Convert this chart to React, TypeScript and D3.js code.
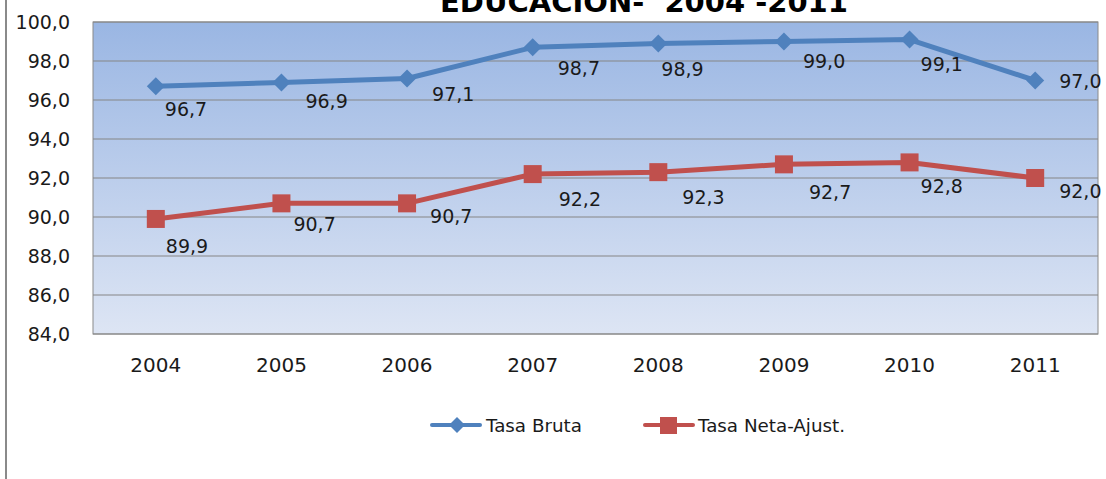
import React from "react";
import * as d3 from "d3";

const years = ["2004", "2005", "2006", "2007", "2008", "2009", "2010", "2011"];
const tasaBruta = [96.7, 96.9, 97.1, 98.7, 98.9, 99.0, 99.1, 97.0];
const tasaNeta = [89.9, 90.7, 90.7, 92.2, 92.3, 92.7, 92.8, 92.0];
const yTicks = [84, 86, 88, 90, 92, 94, 96, 98, 100];
const seriesNames = ["Tasa Bruta", "Tasa Neta-Ajust."];
const title = "EDUCACIÓN-\u00A0\u00A02004 -2011";

// label offsets (layout only): [dx, dy] from point to label's left baseline
const brutaLabelOff = [[9, 30], [24, 26], [25, 22], [25, 28], [3, 33], [19, 26], [11, 31], [24, 7]];
const netaLabelOff = [[10, 34], [12, 28], [23, 20], [26, 32], [24, 32], [25, 35], [11, 31], [24, 20]];

const W = 1106, H = 479;
const plot = { left: 93, right: 1098, top: 22, bottom: 334 };
const FONT = "'DejaVu Sans', sans-serif";
const BLUE = "#4F81BD";
const RED = "#C0504D";
const fmt = (v: number) => v.toFixed(1).replace(".", ",");

export default function App() {
  const x = d3.scaleBand<string>().domain(years).range([plot.left, plot.right]);
  const y = d3.scaleLinear().domain([84, 100]).range([plot.bottom, plot.top]);
  const cx = (yr: string) => (x(yr) as number) + x.bandwidth() / 2;
  const line = d3.line<number>().x((_, i) => cx(years[i])).y((v) => y(v));
  const diamond = (s: number) => `M0,${-s} L${s},0 L0,${s} L${-s},0 Z`;

  return (
    <svg width={W} height={H} style={{ position: "absolute", left: 0, top: 0, background: "#fff" }}>
      <defs>
        <linearGradient id="bg" x1="0" y1="0" x2="0" y2="1">
          <stop offset="0" stopColor="#9AB6E3" />
          <stop offset="1" stopColor="#DDE5F4" />
        </linearGradient>
      </defs>
      <line x1={6} x2={6} y1={0} y2={H} stroke="#8a8a8a" strokeWidth={2} />
      <text x={644} y={12} textAnchor="middle" fontFamily={FONT} fontWeight="bold" fontSize={29} fill="#000">{title}</text>
      <rect x={plot.left} y={plot.top} width={plot.right - plot.left} height={plot.bottom - plot.top} fill="url(#bg)" stroke="#8a8a8a" strokeWidth={1} />
      {yTicks.map((t) => (
        <g key={t}>
          <line x1={plot.left} x2={plot.right} y1={y(t)} y2={y(t)} stroke="#868686" strokeWidth={1.2} />
          <text x={70} y={y(t) + 7} textAnchor="end" fontFamily={FONT} fontSize={19} fill="#1a1a1a">{fmt(t)}</text>
        </g>
      ))}
      {years.map((yr) => (
        <text key={yr} x={cx(yr)} y={372} textAnchor="middle" fontFamily={FONT} fontSize={20} fill="#1a1a1a">{yr}</text>
      ))}
      <path d={line(tasaBruta) || ""} fill="none" stroke={BLUE} strokeWidth={5} strokeLinejoin="round" />
      <path d={line(tasaNeta) || ""} fill="none" stroke={RED} strokeWidth={5} strokeLinejoin="round" />
      {tasaBruta.map((v, i) => (
        <path key={"b" + i} d={diamond(9)} transform={`translate(${cx(years[i])},${y(v)})`} fill={BLUE} />
      ))}
      {tasaNeta.map((v, i) => (
        <rect key={"n" + i} x={cx(years[i]) - 9} y={y(v) - 9} width={18} height={18} fill={RED} />
      ))}
      {tasaBruta.map((v, i) => (
        <text key={"bl" + i} x={cx(years[i]) + brutaLabelOff[i][0]} y={y(v) + brutaLabelOff[i][1]} fontFamily={FONT} fontSize={19} fill="#1a1a1a">{fmt(v)}</text>
      ))}
      {tasaNeta.map((v, i) => (
        <text key={"nl" + i} x={cx(years[i]) + netaLabelOff[i][0]} y={y(v) + netaLabelOff[i][1]} fontFamily={FONT} fontSize={19} fill="#1a1a1a">{fmt(v)}</text>
      ))}
      {/* legend */}
      <g>
        <line x1={432} x2={480} y1={425} y2={425} stroke={BLUE} strokeWidth={4} strokeLinecap="round" />
        <path d={diamond(8)} transform="translate(457,425)" fill={BLUE} />
        <text x={486} y={432} fontFamily={FONT} fontSize={18.3} fill="#1a1a1a">{seriesNames[0]}</text>
        <line x1={645} x2={693} y1={425} y2={425} stroke={RED} strokeWidth={4} strokeLinecap="round" />
        <rect x={660} y={417} width={17} height={17} fill={RED} />
        <text x={698} y={432} fontFamily={FONT} fontSize={18.3} fill="#1a1a1a">{seriesNames[1]}</text>
      </g>
    </svg>
  );
}
